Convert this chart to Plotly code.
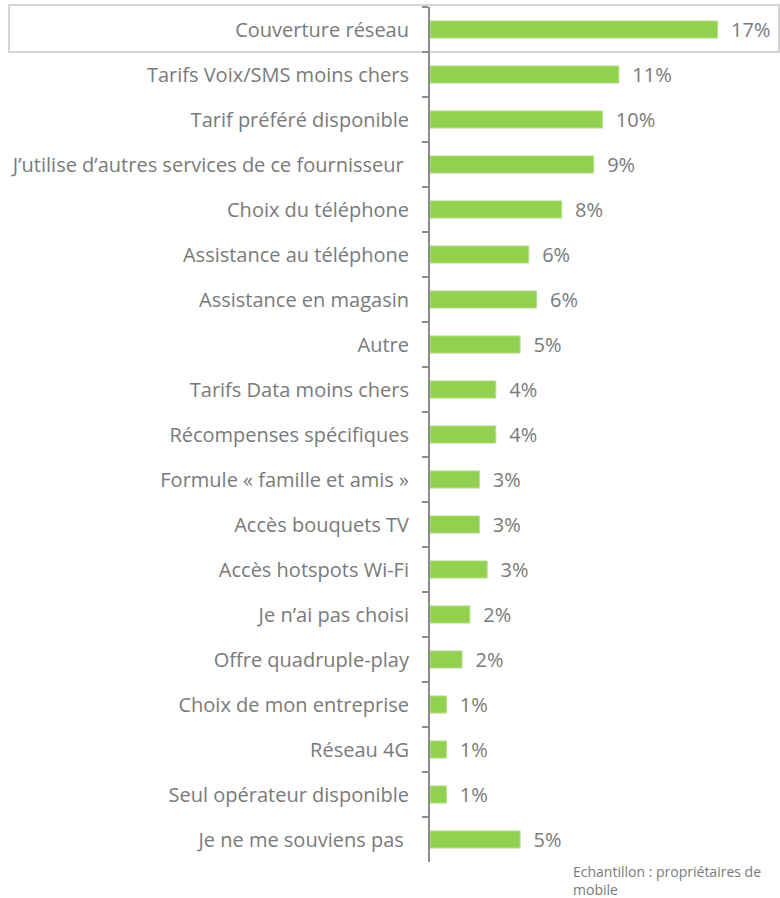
import plotly.graph_objects as go

categories = [
    "Couverture réseau",
    "Tarifs Voix/SMS moins chers",
    "Tarif préféré disponible",
    "J’utilise d’autres services de ce fournisseur\u00a0",
    "Choix du téléphone",
    "Assistance au téléphone",
    "Assistance en magasin",
    "Autre",
    "Tarifs Data moins chers",
    "Récompenses spécifiques",
    "Formule « famille et amis »",
    "Accès bouquets TV",
    "Accès hotspots Wi-Fi",
    "Je n’ai pas choisi",
    "Offre quadruple-play",
    "Choix de mon entreprise",
    "Réseau 4G",
    "Seul opérateur disponible",
    "Je ne me souviens pas\u00a0",
]
values = [16.6, 10.9, 9.95, 9.45, 7.6, 5.7, 6.15, 5.2, 3.8, 3.8, 2.85, 2.85, 3.3, 2.3, 1.85, 0.95, 0.95, 0.95, 5.2]
value_labels = ["17%", "11%", "10%", "9%", "8%", "6%", "6%", "5%", "4%", "4%", "3%", "3%", "3%", "2%", "2%", "1%", "1%", "1%", "5%"]
footnote = "Echantillon : propriétaires de<br>mobile"

GRAY = "#7a7a7a"
FONT = "Open Sans, Segoe UI, sans-serif"

fig = go.Figure()
fig.add_trace(go.Bar(
    x=values,
    y=categories,
    orientation="h",
    marker=dict(color="#92D050", line=dict(color="#b5e08a", width=1)),
    text=["\u00a0\u00a0" + t for t in value_labels],
    textposition="outside",
    constraintext="none",
    textfont=dict(family=FONT, size=20, color=GRAY),
    cliponaxis=False,
    hoverinfo="skip",
))

W, H = 780, 898
L, R, T, B = 430, 0, 7, 36
fig.update_layout(
    width=W, height=H,
    margin=dict(l=L, r=R, t=T, b=B, autoexpand=False),
    paper_bgcolor="white",
    plot_bgcolor="white",
    showlegend=False,
    bargap=0.62,
    font=dict(family=FONT, color=GRAY),
    xaxis=dict(range=[0, 20.2], visible=False, fixedrange=True),
    yaxis=dict(
        autorange="reversed",
        automargin=False,
        fixedrange=True,
        showline=True, linecolor="#8c8c8c", linewidth=2,
        ticks="outside", tickson="boundaries", ticklen=6, tickcolor="#8c8c8c", tickwidth=2,
        tickfont=dict(family=FONT, size=20, color=GRAY),
        ticklabelstandoff=15,
        showgrid=False, zeroline=False,
    ),
)

pw = W - L - R
ph = H - T - B
fig.add_shape(
    type="rect", xref="paper", yref="paper",
    x0=(9 - L) / pw, x1=(779 - L) / pw,
    y0=1 - (52 - T) / ph, y1=1 - (5 - T) / ph,
    line=dict(color="#c8c8c8", width=1.5),
    fillcolor="rgba(0,0,0,0)", layer="below",
)
fig.add_annotation(
    text=footnote, xref="paper", yref="paper",
    x=(572 - L) / pw, y=1 - (861 - T) / ph,
    xanchor="left", yanchor="top", align="left",
    showarrow=False, borderpad=0,
    font=dict(family=FONT, size=14, color=GRAY),
)

fig.write_html(
    "out.html",
    config={"displayModeBar": False, "staticPlot": True},
    post_script="document.body.style.margin='0';document.body.style.padding='0';",
)
